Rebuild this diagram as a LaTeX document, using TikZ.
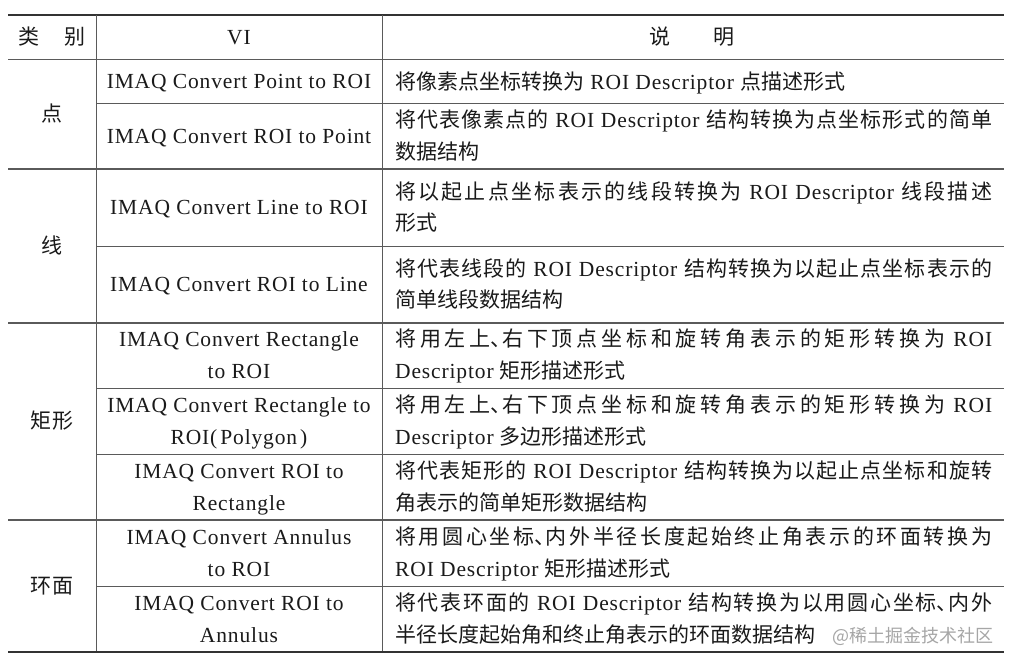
\documentclass[tikz,border=0pt]{standalone}
\usepackage{fontspec}
\setmainfont{Liberation Serif}[LetterSpace=4]
\newfontfamily\cjkf{Noto Sans CJK SC}[Scale=0.977]
\newfontfamily\wmf{Noto Sans CJK SC}
\newcommand\C[1]{{\cjkf #1}}
\newcommand\dun{{\cjkf\makebox[0.55em][l]{、}}}
\newcommand\jl[1]{\parbox[b]{597pt}{\XeTeXlinebreaklocale "zh"\XeTeXlinebreakskip=0pt plus 6pt minus 0.6pt\relax\parfillskip=0pt\tolerance=10000\hbadness=10000\noindent #1}}
\definecolor{txt}{HTML}{1A1A1A}
\definecolor{rulec}{HTML}{5A5A5A}
\definecolor{rulek}{HTML}{333333}
\begin{document}
\begin{tikzpicture}[x=1pt,y=-1pt,
  lbl/.style={inner sep=0pt, text=txt, font=\fontsize{21.5}{32}\selectfont},
  cen/.style={lbl, anchor=base},
  dsc/.style={lbl, anchor=base west},
  thinrule/.style={draw=rulec, line width=0.9pt},
  grouprule/.style={draw=rulec, line width=1.2pt},
  heavyrule/.style={draw=rulek, line width=1.8pt}]
\useasboundingbox[fill=white] (0,0) rectangle (1014,664);

% rules
\draw[heavyrule] (8,15) -- (1004,15);
\draw[thinrule] (8,59) -- (1004,59);
\draw[thinrule] (96,15) -- (96,652);
\draw[thinrule] (382,15) -- (382,652);
\draw[grouprule] (8,169) -- (1004,169);
\draw[grouprule] (8,323) -- (1004,323);
\draw[grouprule] (8,520) -- (1004,520);
\draw[thinrule] (96,103) -- (1004,103);
\draw[thinrule] (96,246) -- (1004,246);
\draw[thinrule] (96,388) -- (1004,388);
\draw[thinrule] (96,454) -- (1004,454);
\draw[thinrule] (96,586) -- (1004,586);
\draw[heavyrule] (8,652) -- (1004,652);

% header
\node[cen] (h1) at (52,44) {\C{类}\hspace{25pt}\C{别}};
\node[cen] (h2) at (239,44) {VI};
\node[cen] (h3) at (692,44) {\C{说}\hspace{44pt}\C{明}};

% groups
\node[cen] (g1) at (52,121) {\C{点}};
\node[cen] (g2) at (52,253) {\C{线}};
\node[cen] (g3) at (52,428) {\C{矩形}};
\node[cen] (g4) at (52,593) {\C{环面}};

% VI column
\node[cen] (v1) at (239,88) {IMAQ Convert Point to ROI};
\node[cen] (v2) at (239,143) {IMAQ Convert ROI to Point};
\node[cen] (v3) at (239,214.5) {IMAQ Convert Line to ROI};
\node[cen] (v4) at (239,291.5) {IMAQ Convert ROI to Line};
\node[cen] (v5a) at (239,346.5) {IMAQ Convert Rectangle};
\node[cen] (v5b) at (239,378.5) {to ROI};
\node[cen] (v6a) at (239,412) {IMAQ Convert Rectangle to};
\node[cen] (v6b) at (239,444) {ROI(\hspace{3pt}Polygon\hspace{3pt})};
\node[cen] (v7a) at (239,478) {IMAQ Convert ROI to};
\node[cen] (v7b) at (239,510) {Rectangle};
\node[cen] (v8a) at (239,544) {IMAQ Convert Annulus};
\node[cen] (v8b) at (239,576) {to ROI};
\node[cen] (v9a) at (239,610) {IMAQ Convert ROI to};
\node[cen] (v9b) at (239,642) {Annulus};

% description column
\node[dsc] (d1) at (395,89) {\C{将像素点坐标转换为} ROI Descriptor \C{点描述形式}};
\node[dsc] (d2a) at (395,127) {\jl{\C{将代表像素点的} ROI Descriptor \C{结构转换为点坐标形式的简单}}};
\node[dsc] (d2b) at (395,159) {\C{数据结构}};
\node[dsc] (d3a) at (395,199) {\jl{\C{将以起止点坐标表示的线段转换为} ROI Descriptor \C{线段描述}}};
\node[dsc] (d3b) at (395,230) {\C{形式}};
\node[dsc] (d4a) at (395,276) {\jl{\C{将代表线段的} ROI Descriptor \C{结构转换为以起止点坐标表示的}}};
\node[dsc] (d4b) at (395,307) {\C{简单线段数据结构}};
\node[dsc] (d5a) at (395,346.5) {\jl{\C{将用左上}\dun\C{右下顶点坐标和旋转角表示的矩形转换为} ROI}};
\node[dsc] (d5b) at (395,378.5) {Descriptor \C{矩形描述形式}};
\node[dsc] (d6a) at (395,412) {\jl{\C{将用左上}\dun\C{右下顶点坐标和旋转角表示的矩形转换为} ROI}};
\node[dsc] (d6b) at (395,444) {Descriptor \C{多边形描述形式}};
\node[dsc] (d7a) at (395,478) {\jl{\C{将代表矩形的} ROI Descriptor \C{结构转换为以起止点坐标和旋转}}};
\node[dsc] (d7b) at (395,510) {\C{角表示的简单矩形数据结构}};
\node[dsc] (d8a) at (395,544) {\jl{\C{将用圆心坐标}\dun\C{内外半径长度起始终止角表示的环面转换为}}};
\node[dsc] (d8b) at (395,576) {ROI Descriptor \C{矩形描述形式}};
\node[dsc] (d9a) at (395,610) {\jl{\C{将代表环面的} ROI Descriptor \C{结构转换为以用圆心坐标}\dun\C{内外}}};
\node[dsc] (d9b) at (395,642) {\C{半径长度起始角和终止角表示的环面数据结构}};
\node[inner sep=0pt, anchor=base east, text=black!35, font=\wmf\fontsize{18}{20}\selectfont] (wm) at (994,642) {@稀土掘金技术社区};
\end{tikzpicture}
\end{document}
